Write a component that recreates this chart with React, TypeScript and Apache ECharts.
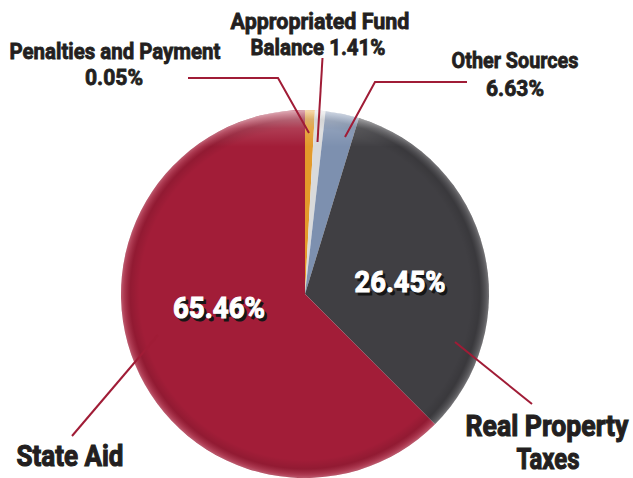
import React, { useEffect, useRef } from "react";
import * as echarts from "echarts";

// Slice order, clockwise from 12 o'clock
const categories = [
  "Penalties and Payment",
  "Appropriated Fund Balance",
  "Other Sources",
  "Real Property Taxes",
  "State Aid",
];
// Slice sizes as drawn in the picture (share of the full circle, %)
const sliceSizes = [0.86, 0.92, 2.95, 32.8, 62.5];
// Percentages printed on the chart
const percentLabels = ["0.05%", "1.41%", "6.63%", "26.45%", "65.46%"];
const sliceColors = ["#e39a2a", "#d9dadb", "#7d90af", "#403f43", "#a21d38"];

const FONT = 'Roboto, "Noto Sans", sans-serif';
const INK = "#231f20";
const LEADER = "#a01c36";

const CX = 305;
const CY = 294;
const R = 184;

let measureCtx: CanvasRenderingContext2D | null = null;
function measure(text: string, font: string): number {
  if (!measureCtx) measureCtx = document.createElement("canvas").getContext("2d");
  if (!measureCtx) return 1;
  measureCtx.font = font;
  return measureCtx.measureText(text).width || 1;
}

export default function App() {
  const ref = useRef<HTMLDivElement>(null);

  useEffect(() => {
    document.body.style.margin = "0";
    if (!ref.current) return;
    const chart = echarts.init(ref.current, undefined, { renderer: "svg" });

    // condensed text: squeezed horizontally to a target width
    const label = (
      text: string,
      x: number,
      y: number,
      size: number,
      width: number,
      fill: string = INK,
      z: number = 20
    ) => {
      const font = `bold ${size}px ${FONT}`;
      const sx = width / measure(text, font);
      return {
        type: "text",
        x,
        y,
        z,
        scaleX: sx,
        silent: true,
        style: {
          text,
          fill,
          stroke: fill,
          lineWidth: size > 25 ? 1.1 : 0.8,
          font,
          textAlign: "center",
          textVerticalAlign: "middle",
        },
      };
    };
    const inner = (text: string, x: number, y: number, width: number) => [
      label(text, x + 2.5, y + 2.5, 30, width, "#161616", 20),
      label(text, x, y, 30, width, "#ffffff", 21),
    ];
    const leader = (points: number[][]) => ({
      type: "polyline",
      z: 15,
      silent: true,
      shape: { points },
      style: { stroke: LEADER, lineWidth: 2, fill: "none" },
    });

    const graphics: any[] = [
      // rim shading overlays
      {
        type: "circle",
        z: 10,
        silent: true,
        shape: { cx: CX, cy: CY, r: R },
        style: {
          fill: {
            type: "radial",
            x: 0.5,
            y: 0.5,
            r: 0.5,
            colorStops: [
              { offset: 0, color: "rgba(0,0,0,0)" },
              { offset: 0.9, color: "rgba(0,0,0,0)" },
              { offset: 0.95, color: "rgba(0,0,0,0.10)" },
              { offset: 0.985, color: "rgba(255,255,255,0.14)" },
              { offset: 1, color: "rgba(255,255,255,0.28)" },
            ],
          },
        },
      },
      {
        type: "circle",
        z: 11,
        silent: true,
        shape: { cx: CX, cy: CY, r: R },
        style: {
          fill: {
            type: "linear",
            x: 0,
            y: 0,
            x2: 0,
            y2: 1,
            colorStops: [
              { offset: 0, color: "rgba(255,255,255,0.5)" },
              { offset: 0.05, color: "rgba(255,255,255,0.14)" },
              { offset: 0.1, color: "rgba(255,255,255,0)" },
              { offset: 1, color: "rgba(255,255,255,0)" },
            ],
          },
        },
      },
      // leader lines
      leader([[188, 78], [278, 78], [309, 133]]),
      leader([[322.5, 58], [317.5, 142]]),
      leader([[467, 82], [375, 82], [345, 137]]),
      leader([[455, 342], [532, 404]]),
      leader([[72, 436], [158, 335]]),
      // outside labels
      label(categories[0], 115, 51, 22, 211),
      label(percentLabels[0], 114, 77, 22, 58),
      label("Appropriated Fund", 320, 21, 22, 179),
      label(`Balance ${percentLabels[1]}`, 318, 47, 22, 135),
      label(categories[2], 515, 61, 22, 127),
      label(percentLabels[2], 515, 88, 22, 58),
      label("Real Property", 547, 426, 30, 163),
      label("Taxes", 548, 459, 30, 63),
      label(categories[4], 70, 456, 30, 107),
      ...inner(percentLabels[4], 219, 308, 92),
      ...inner(percentLabels[3], 400, 282, 91),
    ];

    chart.setOption({
      animation: false,
      backgroundColor: "#ffffff",
      series: [
        {
          type: "pie",
          center: [CX, CY],
          radius: [0, R],
          startAngle: 90,
          clockwise: true,
          label: { show: false },
          labelLine: { show: false },
          silent: true,
          itemStyle: { borderWidth: 0 },
          data: categories.map((name, i) => ({
            name,
            value: sliceSizes[i],
            itemStyle: { color: sliceColors[i] },
          })),
        },
      ],
      graphic: graphics,
    });

    return () => chart.dispose();
  }, []);

  return <div ref={ref} style={{ width: 633, height: 478 }} />;
}
